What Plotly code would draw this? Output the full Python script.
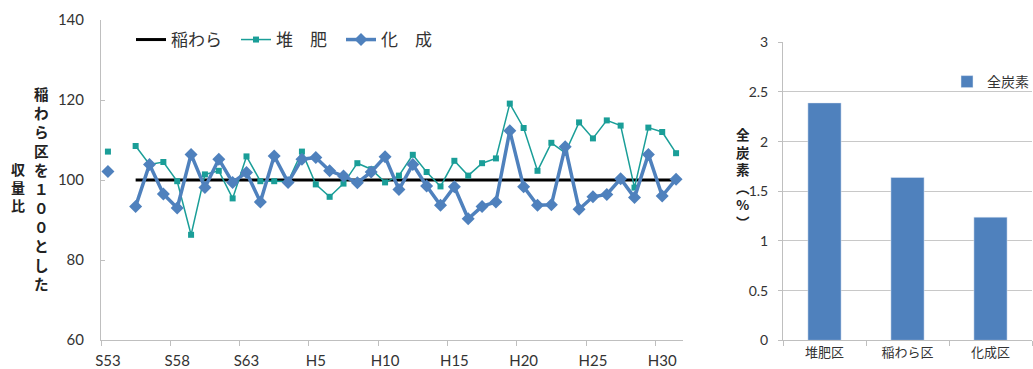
import plotly.graph_objects as go

# ---------------- data ----------------
year_labels = ["S53", "S54", "S55", "S56", "S57", "S58", "S59", "S60", "S61", "S62", "S63",
               "H1", "H2", "H3", "H4", "H5", "H6", "H7", "H8", "H9", "H10",
               "H11", "H12", "H13", "H14", "H15", "H16", "H17", "H18", "H19", "H20",
               "H21", "H22", "H23", "H24", "H25", "H26", "H27", "H28", "H29", "H30", "H31"]
tick_labels = ["S53", "S58", "S63", "H5", "H10", "H15", "H20", "H25", "H30"]

straw = [100, None] + [100] * 40
compost = [107.1, None, 108.5, 103.9, 104.5, 99.7, 86.3, 101.4, 102.3, 95.4, 105.9,
           99.7, 99.7, 99.6, 107.1, 98.9, 95.8, 99.1, 104.2, 102.7, 99.4,
           101.1, 106.3, 102.0, 98.4, 104.8, 101.1, 104.2, 105.4, 119.1, 113.0,
           102.3, 109.3, 106.8, 114.4, 110.4, 114.9, 113.6, 98.1, 113.1, 112.0, 106.7]
chemical = [102.1, None, 93.4, 103.9, 96.5, 93.0, 106.4, 98.1, 105.2, 99.4, 101.9,
            94.5, 106.0, 99.4, 105.2, 105.6, 102.3, 101.0, 99.3, 102.0, 105.8,
            97.6, 103.9, 98.5, 93.7, 98.3, 90.3, 93.4, 94.5, 112.3, 98.3,
            93.7, 93.8, 108.3, 92.7, 95.8, 96.4, 100.3, 95.6, 106.4, 96.0, 100.2]

plots = ["堆肥区", "稲わら区", "化成区"]
total_carbon = [2.39, 1.64, 1.24]

# ---------------- figure ----------------
W, H = 1033, 369
xi = list(range(len(year_labels)))
tickvals = [year_labels.index(t) for t in tick_labels]
boundaries = [v - 0.5 for v in tickvals]

num_font = "Lato, 'Open Sans', sans-serif"
jp_font = "'Noto Sans CJK JP', sans-serif"
axis_gray = "#BFBFBF"
text_col = "#333333"

fig = go.Figure()
fig.add_trace(go.Scatter(x=xi, y=straw, name="稲わら", mode="lines",
                         line=dict(color="black", width=3), connectgaps=False))
fig.add_trace(go.Scatter(x=xi, y=compost, name="堆　肥", mode="lines+markers",
                         line=dict(color="#1A9E98", width=1.5),
                         marker=dict(symbol="square", size=6, color="#1A9E98"),
                         connectgaps=False))
fig.add_trace(go.Scatter(x=xi, y=chemical, name="化　成", mode="lines+markers",
                         line=dict(color="#4F81BD", width=3.5),
                         marker=dict(symbol="diamond", size=10, color="#4F81BD"),
                         connectgaps=False))
fig.add_trace(go.Bar(x=plots, y=total_carbon, name="全炭素", xaxis="x2", yaxis="y2",
                     marker=dict(color="#4F81BD"), width=0.4, legend="legend2"))

fig.update_layout(
    width=W, height=H,
    margin=dict(l=0, r=0, t=0, b=0, autoexpand=False),
    paper_bgcolor="white", plot_bgcolor="white",
    font=dict(family=jp_font, color=text_col),
    xaxis=dict(domain=[101 / W, 683 / W], range=[-0.5, 41.5],
               tickmode="array", tickvals=tickvals, ticktext=tick_labels,
               ticks="", showline=True, linecolor=axis_gray, linewidth=1,
               showgrid=False, zeroline=False,
               tickfont=dict(family=num_font, size=15, color=text_col),
               ticklabelstandoff=7,
               minor=dict(tickmode="array", tickvals=boundaries, ticks="outside",
                          ticklen=5, tickcolor=axis_gray, showgrid=False)),
    yaxis=dict(domain=[29 / H, 349 / H], range=[60, 140], dtick=20,
               ticks="inside", ticklen=4, tickcolor=axis_gray,
               showline=True, linecolor=axis_gray, linewidth=1,
               showgrid=False, zeroline=False,
               tickfont=dict(family=num_font, size=15, color=text_col),
               ticklabelstandoff=13),
    xaxis2=dict(domain=[783 / W, 1032 / W], anchor="y2", type="category",
                range=[-0.5, 2.5], tickson="boundaries", ticks="outside",
                ticklen=5, tickcolor=axis_gray, showline=True, linecolor=axis_gray,
                showgrid=False, zeroline=False,
                tickfont=dict(family=jp_font, size=13, color=text_col)),
    yaxis2=dict(domain=[(H - 340.3) / H, (H - 42.3) / H], anchor="x2",
                range=[0, 3], dtick=0.5, ticks="outside", ticklen=4,
                tickcolor=axis_gray, showline=True, linecolor=axis_gray,
                showgrid=True, gridcolor="#C8C8C8", zeroline=False,
                tickfont=dict(family=num_font, size=14, color=text_col),
                ticklabelstandoff=7),
    legend=dict(orientation="h", x=131 / W, y=1 - 40 / H, xanchor="left",
                yanchor="middle", font=dict(family=jp_font, size=17, color=text_col),
                bgcolor="rgba(0,0,0,0)", entrywidth=60, entrywidthmode="pixels"),
    legend2=dict(orientation="h", x=947 / W, y=1 - 82 / H, xanchor="left",
                 yanchor="middle", font=dict(family=jp_font, size=14, color=text_col),
                 bgcolor="rgba(0,0,0,0)"),
    annotations=[
        dict(text="<b>" + "<br>".join("稲わら区を１００とした") + "</b>",
             x=41 / W, y=1 - 188 / H,
             xref="paper", yref="paper", showarrow=False, xanchor="center",
             yanchor="middle", font=dict(family=jp_font, size=14.6, color="#222")),
        dict(text="<b>" + "<br>".join("収量比") + "</b>", x=18 / W, y=1 - 187 / H,
             xref="paper", yref="paper", showarrow=False, xanchor="center",
             yanchor="middle", font=dict(family=jp_font, size=14, color="#222")),
        dict(text="<b>" + "<br>".join(["全", "炭", "素", "︵", "%", "︶"]) + "</b>",
             x=743 / W, y=1 - 178 / H,
             xref="paper", yref="paper", showarrow=False, xanchor="center",
             yanchor="middle", font=dict(family=jp_font, size=13.5, color="#222")),
    ],
)

fig.write_html("out.html", config={"displayModeBar": False},
               post_script="document.body.style.margin='0';document.body.style.overflow='hidden';")
